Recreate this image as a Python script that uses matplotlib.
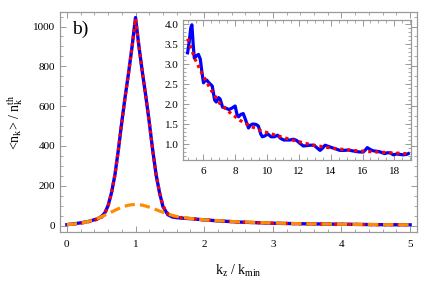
import matplotlib
matplotlib.use("Agg")
import matplotlib.pyplot as plt
from matplotlib.ticker import MultipleLocator

plt.rcParams['font.family'] = ['Liberation Serif', 'DejaVu Serif']
plt.rcParams['mathtext.fontset'] = 'custom'
plt.rcParams['mathtext.rm'] = 'Liberation Serif'
plt.rcParams['mathtext.it'] = 'Liberation Serif:italic'

# ---- main panel data ----
k_blue = [0, 0.1, 0.2, 0.3, 0.375, 0.45, 0.5, 0.55, 0.6, 0.65, 0.7, 0.75, 0.8, 0.85, 0.9, 0.95, 1.0,
          1.05, 1.1, 1.15, 1.2, 1.25, 1.3, 1.35, 1.4, 1.47, 1.54, 1.6, 1.7, 1.8, 2.0, 2.2, 2.5, 3.0, 3.5, 4.0, 4.5, 5.0]
n_blue = [5, 9, 14, 20, 27, 35, 45, 62, 100, 165, 255, 380, 520, 650, 770, 900, 1045,
          900, 770, 650, 520, 380, 255, 165, 95, 55, 43, 40, 37, 35, 29, 24, 18, 12, 9, 7, 5, 4]

k_fit = [0, 0.1, 0.2, 0.3, 0.4, 0.5, 0.55, 0.6, 0.65, 0.7, 0.75, 0.8, 0.85, 0.9, 0.95, 1.0,
         1.05, 1.1, 1.15, 1.2, 1.25, 1.3, 1.35, 1.4, 1.45, 1.5, 1.6, 1.8, 2.0, 2.5, 3.0, 3.5, 4.0, 4.5, 5.0]
n_fit = [5, 8, 12, 18, 27, 40, 58, 98, 163, 255, 380, 520, 650, 770, 900, 1040,
         900, 770, 650, 520, 380, 255, 165, 100, 68, 52, 42, 35, 29, 18, 12, 9, 7, 5, 4]

k_th = [0, 0.1, 0.2, 0.3, 0.4, 0.5, 0.6, 0.7, 0.8, 0.9, 1.0, 1.1, 1.2, 1.3, 1.4, 1.5, 1.6, 1.7, 1.8,
        2.0, 2.5, 3.0, 3.5, 4.0, 4.5, 5.0]
n_th = [5, 8, 13, 20, 30, 44, 60, 77, 93, 103, 107, 103, 93, 80, 67, 55, 46, 40, 36,
        29, 19, 13, 9, 7, 5, 4]

# ---- inset data ----
k_in = [5.0, 5.1, 5.2, 5.27, 5.35, 5.42, 5.55, 5.68, 5.8, 5.9, 6.0, 6.1, 6.2, 6.3, 6.42, 6.55, 6.7, 6.8,
        6.95, 7.05, 7.2, 7.4, 7.6, 7.8, 7.99, 8.1, 8.2, 8.35, 8.5, 8.65, 8.83, 8.95, 9.1, 9.3, 9.45, 9.6,
        9.7, 9.85, 10.05, 10.25, 10.45, 10.65, 10.85, 11.05, 11.25, 11.45, 11.65, 11.85, 12.05, 12.28,
        12.5, 12.7, 12.95, 13.15, 13.33, 13.5, 13.64, 13.85, 14.06, 14.3, 14.58, 14.85, 15.1, 15.35,
        15.63, 15.85, 16.05, 16.2, 16.3, 16.5, 16.68, 16.85, 17.05, 17.25, 17.4, 17.55, 17.73, 17.93,
        18.15, 18.35, 18.55, 18.77, 18.88]
n_in = [3.28, 3.55, 3.9, 3.98, 3.5, 3.15, 3.2, 3.24, 3.12, 2.8, 2.53, 2.58, 2.6, 2.55, 2.5, 2.45, 2.1, 2.05,
        2.16, 2.12, 1.92, 1.9, 1.86, 1.9, 1.95, 1.75, 1.68, 1.74, 1.76, 1.6, 1.4, 1.47, 1.5, 1.49, 1.45, 1.25,
        1.18, 1.2, 1.25, 1.18, 1.18, 1.22, 1.14, 1.1, 1.1, 1.1, 1.12, 1.09, 1.02, 0.95,
        0.96, 0.97, 0.97, 0.9, 0.84, 0.9, 0.97, 0.94, 0.91, 0.88, 0.84, 0.84, 0.85, 0.83,
        0.81, 0.8, 0.8, 0.86, 0.91, 0.86, 0.83, 0.82, 0.81, 0.78, 0.76, 0.78, 0.78, 0.73,
        0.75, 0.74, 0.73, 0.74, 0.76]

k_in_fit = [5.0, 5.48, 6.0, 6.52, 7.05, 7.68, 8.3, 8.93, 9.56, 10.2, 10.8, 11.4, 12.07, 12.9, 14.16,
            15.63, 16.9, 18.67, 18.9]
n_in_fit = [3.63, 3.11, 2.69, 2.32, 2.0, 1.78, 1.59, 1.45, 1.34, 1.26, 1.19, 1.12, 1.05, 0.97, 0.89,
            0.83, 0.80, 0.76, 0.755]

BLUE = '#0000ff'
RED = '#ff0000'
ORANGE = '#ff8c00'
FRAME = '#999999'

fig = plt.figure(figsize=(4.36, 2.81), dpi=100)
ax = fig.add_axes([60/436, 1 - 232/281, (417 - 60)/436, (232 - 12)/281])

ax.plot(k_blue, n_blue, color=BLUE, lw=2.4, solid_joinstyle='round', zorder=2)
ax.plot(k_fit, n_fit, color=RED, lw=2.3, linestyle=(0, (1.0, 1.2)), zorder=3)
ax.plot(k_th, n_th, color=ORANGE, lw=2.3, linestyle=(0, (3.2, 1.6)), zorder=4)

ax.set_xlim(-0.1, 5.1)
ax.set_ylim(-32, 1073)
ax.xaxis.set_major_locator(MultipleLocator(1))
ax.xaxis.set_minor_locator(MultipleLocator(0.2))
ax.yaxis.set_major_locator(MultipleLocator(200))
ax.yaxis.set_minor_locator(MultipleLocator(50))

def style(a, size):
    for s in a.spines.values():
        s.set_color(FRAME)
        s.set_linewidth(0.9)
    a.tick_params(which='both', direction='in', top=True, right=True, color=FRAME,
                  labelsize=size, labelcolor='black')
    a.tick_params(which='major', length=4, width=0.7)
    a.tick_params(which='minor', length=2, width=0.6)

style(ax, 8)
ax.tick_params(axis='x', pad=6)
ax.set_xlabel(r'k$_\mathregular{z}$ / k$_\mathregular{min}$', fontsize=10, labelpad=10)
ax.set_ylabel(r'<n$_\mathregular{k}$> / n$_\mathregular{k}^\mathregular{th}$', fontsize=10, labelpad=6)
ax.text(0.035, 0.92, 'b)', transform=ax.transAxes, fontsize=14, va='center', ha='left')

# inset
axi = fig.add_axes([183.3/436, 1 - 160/281, (410.7 - 183.3)/436, (160 - 20)/281])
axi.plot(k_in, n_in, color=BLUE, lw=2.3, zorder=2)
axi.plot(k_in_fit, n_in_fit, color=RED, lw=2.3, linestyle=(0, (1.0, 1.2)), zorder=3)
axi.set_xlim(4.73, 19.03)
axi.set_ylim(0.6, 4.1)
axi.xaxis.set_major_locator(MultipleLocator(2))
axi.xaxis.set_minor_locator(MultipleLocator(0.5))
axi.yaxis.set_major_locator(MultipleLocator(0.5))
axi.yaxis.set_minor_locator(MultipleLocator(0.1))
axi.yaxis.set_major_formatter(plt.FormatStrFormatter('%.1f'))
style(axi, 8)
axi.tick_params(axis='x', pad=5)

fig.savefig('out.png', dpi=100)
